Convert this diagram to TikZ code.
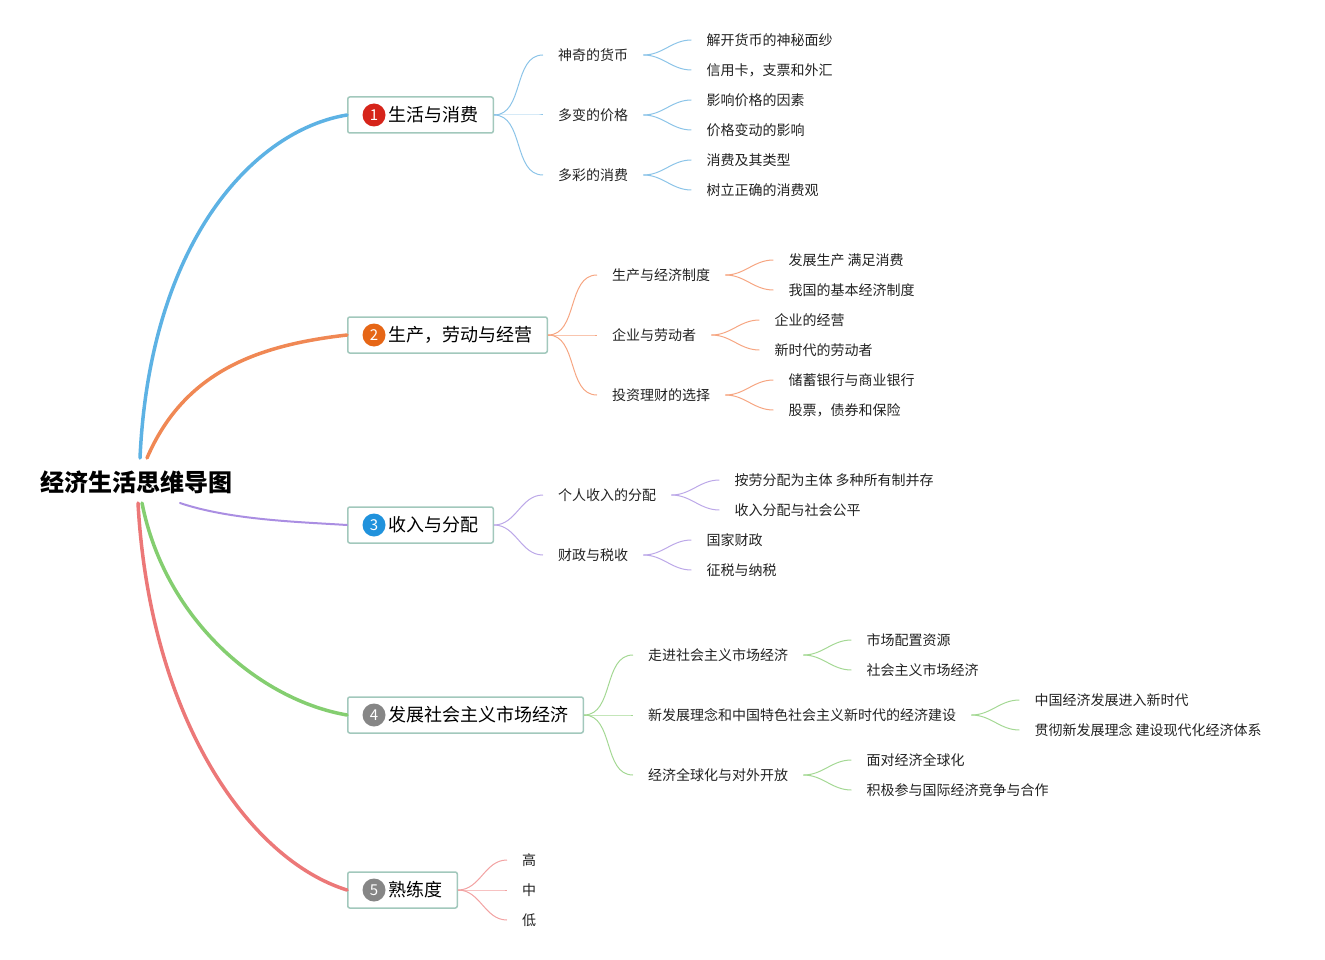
\documentclass[tikz,border=0pt]{standalone}
\usepackage{fontspec}
\newfontfamily\cjk{Noto Sans CJK SC}
\usetikzlibrary{calc}
\definecolor{mblue}{RGB}{93,178,228}
\definecolor{morange}{RGB}{240,136,84}
\definecolor{mpurple}{RGB}{170,142,226}
\definecolor{mgreen}{RGB}{132,206,112}
\definecolor{mred}{RGB}{236,120,120}
\definecolor{tblue}{RGB}{140,196,232}
\definecolor{torange}{RGB}{246,166,130}
\definecolor{tpurple}{RGB}{188,168,232}
\definecolor{tgreen}{RGB}{164,216,148}
\definecolor{tred}{RGB}{242,162,162}
\definecolor{ired}{RGB}{214,36,26}
\definecolor{iorange}{RGB}{230,102,22}
\definecolor{iblue}{RGB}{32,146,220}
\definecolor{igray}{RGB}{134,134,134}
\definecolor{boxline}{RGB}{162,200,188}
\definecolor{txt}{RGB}{34,34,34}

\begin{document}
\begin{tikzpicture}[x=1pt,y=-1pt,
    root/.style={font=\cjk\bfseries\fontsize{24}{28}\selectfont, inner sep=0pt},
    topic/.style={draw=boxline, line width=1.5pt, rounded corners=2pt, fill=white, anchor=west,
        minimum height=36pt, inner xsep=14.5pt, inner ysep=0pt, font=\cjk\fontsize{18}{22}\selectfont},
    icon/.style={circle, inner sep=0pt, minimum size=23pt, text=white, font=\cjk\fontsize{15}{15}\selectfont},
    sub/.style={anchor=west, inner xsep=15pt, inner ysep=2pt, text=txt, font=\cjk\fontsize{14}{17}\selectfont},
    main/.style={line width=3.5pt, line cap=round},
    twig/.style={line width=1pt}]

    \useasboundingbox (0,0) rectangle (1325,960);

    \node[root] (root) at (136,482) {经济生活思维导图};
    \coordinate (rup1) at (140,458);
    \coordinate (rup2) at (147,458);
    \coordinate (rdn1) at (180,503);
    \coordinate (rdn2) at (142,503);
    \coordinate (rdn3) at (138,503);

    \node[topic] (b1) at (347,115) {\hspace*{26.5pt}生活与消费};
    \node[icon, fill=ired] (b1i) at ($(b1.west)+(27,0)$) {1};
    \node[topic] (b2) at (347,335) {\hspace*{26.5pt}生产，劳动与经营};
    \node[icon, fill=iorange] (b2i) at ($(b2.west)+(27,0)$) {2};
    \node[topic] (b3) at (347,525) {\hspace*{26.5pt}收入与分配};
    \node[icon, fill=iblue] (b3i) at ($(b3.west)+(27,0)$) {3};
    \node[topic] (b4) at (347,715) {\hspace*{26.5pt}发展社会主义市场经济};
    \node[icon, fill=igray] (b4i) at ($(b4.west)+(27,0)$) {4};
    \node[topic] (b5) at (347,890) {\hspace*{26.5pt}熟练度};
    \node[icon, fill=igray] (b5i) at ($(b5.west)+(27,0)$) {5};

    \draw[main, mblue] (rup1) .. controls (150,240) and (255,130) .. (b1.west);
    \draw[main, morange] (rup2) .. controls (185,370) and (260,345) .. (b2.west);
    \draw[main, mpurple, line width=2pt] (rdn1) .. controls (230,520) and (300,522) .. (b3.west);
    \draw[main, mgreen] (rdn2) .. controls (165,620) and (260,700) .. (b4.west);
    \draw[main, mred] (rdn3) .. controls (150,720) and (250,860) .. (b5.west);

    \foreach \s/\dy/\t/\a/\b in {s1/-60/神奇的货币/解开货币的神秘面纱/信用卡，支票和外汇,
        s2/0/多变的价格/影响价格的因素/价格变动的影响,
        s3/60/多彩的消费/消费及其类型/树立正确的消费观}{
        \node[sub] (b1\s) at ($(b1.east)+(49,\dy)$) {\t};
        \draw[twig, tblue] (b1.east) to[out=0,in=180] (b1\s.west);
        \node[sub] (b1\s-a) at ($(b1\s.east)+(48,-15)$) {\a};
        \node[sub] (b1\s-b) at ($(b1\s.east)+(48,15)$) {\b};
        \draw[twig, tblue] (b1\s.east) to[out=0,in=180] (b1\s-a.west);
        \draw[twig, tblue] (b1\s.east) to[out=0,in=180] (b1\s-b.west);
    }

    \foreach \s/\dy/\t/\a/\b in {s1/-60/生产与经济制度/发展生产 满足消费/我国的基本经济制度,
        s2/0/企业与劳动者/企业的经营/新时代的劳动者,
        s3/60/投资理财的选择/储蓄银行与商业银行/股票，债券和保险}{
        \node[sub] (b2\s) at ($(b2.east)+(49,\dy)$) {\t};
        \draw[twig, torange] (b2.east) to[out=0,in=180] (b2\s.west);
        \node[sub] (b2\s-a) at ($(b2\s.east)+(48,-15)$) {\a};
        \node[sub] (b2\s-b) at ($(b2\s.east)+(48,15)$) {\b};
        \draw[twig, torange] (b2\s.east) to[out=0,in=180] (b2\s-a.west);
        \draw[twig, torange] (b2\s.east) to[out=0,in=180] (b2\s-b.west);
    }

    \foreach \s/\dy/\t/\a/\b in {s1/-30/个人收入的分配/按劳分配为主体 多种所有制并存/收入分配与社会公平,
        s2/30/财政与税收/国家财政/征税与纳税}{
        \node[sub] (b3\s) at ($(b3.east)+(49,\dy)$) {\t};
        \draw[twig, tpurple] (b3.east) to[out=0,in=180] (b3\s.west);
        \node[sub] (b3\s-a) at ($(b3\s.east)+(48,-15)$) {\a};
        \node[sub] (b3\s-b) at ($(b3\s.east)+(48,15)$) {\b};
        \draw[twig, tpurple] (b3\s.east) to[out=0,in=180] (b3\s-a.west);
        \draw[twig, tpurple] (b3\s.east) to[out=0,in=180] (b3\s-b.west);
    }

    \foreach \s/\dy/\t/\a/\b in {s1/-60/走进社会主义市场经济/市场配置资源/社会主义市场经济,
        s2/0/新发展理念和中国特色社会主义新时代的经济建设/中国经济发展进入新时代/贯彻新发展理念 建设现代化经济体系,
        s3/60/经济全球化与对外开放/面对经济全球化/积极参与国际经济竞争与合作}{
        \node[sub] (b4\s) at ($(b4.east)+(49,\dy)$) {\t};
        \draw[twig, tgreen] (b4.east) to[out=0,in=180] (b4\s.west);
        \node[sub] (b4\s-a) at ($(b4\s.east)+(48,-15)$) {\a};
        \node[sub] (b4\s-b) at ($(b4\s.east)+(48,15)$) {\b};
        \draw[twig, tgreen] (b4\s.east) to[out=0,in=180] (b4\s-a.west);
        \draw[twig, tgreen] (b4\s.east) to[out=0,in=180] (b4\s-b.west);
    }

    \foreach \s/\dy/\t in {s1/-30/高, s2/0/中, s3/30/低}{
        \node[sub] (b5\s) at ($(b5.east)+(49,\dy)$) {\t};
        \draw[twig, tred] (b5.east) to[out=0,in=180] (b5\s.west);
    }
\end{tikzpicture}
\end{document}
